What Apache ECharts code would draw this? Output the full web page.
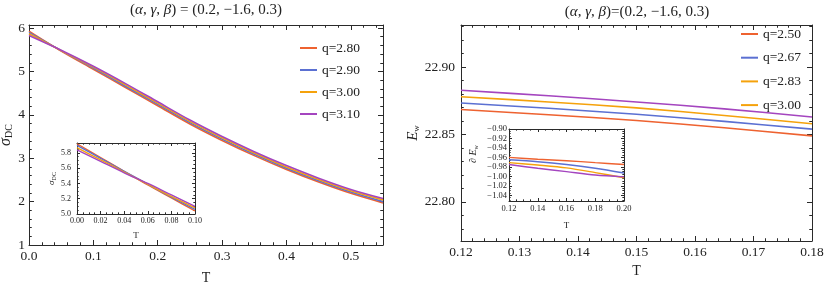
<!DOCTYPE html>
<html>
<head>
<meta charset="utf-8">
<script src="https://cdn.jsdelivr.net/npm/echarts@6/dist/echarts.min.js"></script>
<style>
html, body { margin: 0; padding: 0; background: #fff; }
#main { width: 830px; height: 285px; }
</style>
</head>
<body>
<div id="main"></div>
<script>
// 左图：sigma_DC 随 T
const tMain = [0, 0.05, 0.1, 0.15, 0.2, 0.25, 0.3, 0.35, 0.4, 0.45, 0.5, 0.55]
const sig280 = [5.93, 5.47, 5.05, 4.63, 4.21, 3.79, 3.41, 3.06, 2.74, 2.45, 2.19, 1.97]
const sig290 = [5.90, 5.48, 5.08, 4.66, 4.24, 3.82, 3.44, 3.09, 2.77, 2.48, 2.22, 2.00]
const sig300 = [5.87, 5.48, 5.10, 4.69, 4.27, 3.85, 3.47, 3.12, 2.80, 2.51, 2.25, 2.04]
const sig310 = [5.83, 5.49, 5.12, 4.72, 4.30, 3.88, 3.50, 3.15, 2.83, 2.54, 2.28, 2.07]

// 左图小窗
const tInset = [0, 0.02, 0.04, 0.06, 0.08, 0.1]
const sigIn280 = [5.92, 5.74, 5.56, 5.38, 5.21, 5.04]
const sigIn290 = [5.90, 5.73, 5.56, 5.39, 5.22, 5.06]
const sigIn300 = [5.87, 5.71, 5.55, 5.39, 5.23, 5.08]
const sigIn310 = [5.84, 5.69, 5.54, 5.40, 5.25, 5.10]

// 右图：E_w 随 T
const tRight = [0.12, 0.135, 0.15, 0.165, 0.18]
const ew250 = [22.8685, 22.8646, 22.8604, 22.855, 22.849]
const ew267 = [22.8734, 22.8694, 22.865, 22.8597, 22.854]
const ew283 = [22.878, 22.8741, 22.8697, 22.8641, 22.858]
const ew300 = [22.8828, 22.8787, 22.8741, 22.869, 22.863]

// 右图小窗：偏导
const tRightIn = [0.12, 0.14, 0.16, 0.18, 0.2]
const dEw250 = [-0.960, -0.964, -0.967, -0.971, -0.975]
const dEw267 = [-0.965, -0.969, -0.975, -0.983, -0.993]
const dEw283 = [-0.971, -0.976, -0.982, -0.992, -1.003]
const dEw300 = [-0.975, -0.983, -0.990, -0.997, -1.001]

const leftNames = ["q=2.80", "q=2.90", "q=3.00", "q=3.10"]
const rightNames = ["q=2.50", "q=2.67", "q=2.83", "q=3.00"]
const colors = ["#ee6230", "#5b70d2", "#f5a20c", "#a445bf"]

// 刻度标签
const xTicksMain = [0, 0.1, 0.2, 0.3, 0.4, 0.5]
const yTicksMain = [1, 2, 3, 4, 5, 6]
const xTicksInset = [0, 0.02, 0.04, 0.06, 0.08, 0.1]
const yTicksInset = [5.0, 5.2, 5.4, 5.6, 5.8]
const xTicksRight = [0.12, 0.13, 0.14, 0.15, 0.16, 0.17, 0.18]
const yTicksRight = [22.8, 22.85, 22.9]
const xTicksRightIn = [0.12, 0.14, 0.16, 0.18, 0.2]
const yTicksRightIn = [-1.04, -1.02, -1.0, -0.98, -0.96, -0.94, -0.92, -0.9]

const serif = "Liberation Serif"
const frameColor = "#2a2a2a"

const fmt = (v, d) => (v < -1e-9 ? "\u2212" : "") + Math.abs(v).toFixed(d)

// 副刻度
const minorOf = (min, max, step, major) => {
  const out = []
  for (let k = Math.ceil(min / step - 1e-6); k * step <= max + 1e-9; k++) {
    const v = +(k * step).toFixed(6)
    if (!major.some((m) => Math.abs(m - v) < step / 10)) out.push(v)
  }
  return out
}

const xAxes = []
const yAxes = []

// 四边框 + 主副刻度
function addFrame(list, gi, pos, opp, min, max, major, minorStep, digits, lab, name) {
  const idx = list.length
  const base = { type: "value", gridIndex: gi, min: min, max: max, splitLine: { show: false } }
  const line = { show: true, onZero: false, lineStyle: { color: frameColor, width: 1 } }
  list.push({
    ...base,
    position: pos,
    axisLine: line,
    axisTick: { show: true, inside: true, length: lab.tick, customValues: major, lineStyle: { color: frameColor } },
    axisLabel: {
      show: true, customValues: major, margin: lab.margin, fontSize: lab.size,
      fontFamily: serif, color: "#222", formatter: (v) => fmt(v, digits)
    },
    name: name ? name.text : "",
    nameLocation: "middle",
    nameGap: name ? name.gap : 0,
    nameTextStyle: name ? name.style : {}
  })
  list.push({
    ...base,
    position: opp,
    axisLine: line,
    axisTick: { show: true, inside: true, length: lab.tick, customValues: major, lineStyle: { color: frameColor } },
    axisLabel: { show: false }
  })
  const minor = minorOf(min, max, minorStep, major)
  ;[pos, opp].forEach((p) => {
    list.push({
      ...base,
      position: p,
      axisLine: { show: false, onZero: false },
      axisTick: { show: true, inside: true, length: lab.tick * 0.55, customValues: minor, lineStyle: { color: frameColor } },
      axisLabel: { show: false }
    })
  })
  return idx
}

const subName = (size, shiftUp) => ({
  fontFamily: serif,
  padding: [0, 0, 0, shiftUp || 0],
  rich: {
    m: { fontFamily: serif, fontStyle: "italic", fontSize: size, color: "#222" },
    s: { fontFamily: serif, fontSize: Math.round(size * 0.62), color: "#222", padding: [Math.round(size * 0.45), 0, 0, 0] }
  }
})

const grids = [
  { left: 29, top: 25, width: 354, height: 220 },
  { left: 77, top: 143, width: 118, height: 71, show: true, backgroundColor: "#fff", borderWidth: 0 },
  { left: 461, top: 25, width: 351, height: 216 },
  { left: 509, top: 129, width: 115, height: 72, show: true, backgroundColor: "#fff", borderWidth: 0 }
]

const mainLab = { tick: 5, margin: 4, size: 13.5 }
const insetLab = { tick: 3, margin: 3, size: 8.5 }

// 左主图
const x0 = addFrame(xAxes, 0, "bottom", "top", 0, 0.55, xTicksMain, 0.02, 1, mainLab,
  { text: "T", gap: 26, style: { fontFamily: serif, fontSize: 14, color: "#222" } })
const y0 = addFrame(yAxes, 0, "left", "right", 1, 6.07, yTicksMain, 0.2, 0, { tick: 5, margin: 4, size: 13.5 },
  { text: "{m|σ}{s|DC}", gap: 9, style: subName(16) })
// 左小窗
const x1 = addFrame(xAxes, 1, "bottom", "top", 0, 0.1, xTicksInset, 0.005, 2, { tick: 3, margin: 3, size: 8 },
  { text: "T", gap: 17, style: { fontFamily: serif, fontSize: 9, color: "#222" } })
const y1 = addFrame(yAxes, 1, "left", "right", 5.0, 5.93, yTicksInset, 0.05, 1, { tick: 3, margin: 6, size: 8 },
  { text: "{m|σ}{s|DC}", gap: 15, style: subName(9) })
// 右主图
const x2 = addFrame(xAxes, 2, "bottom", "top", 0.12, 0.18, xTicksRight, 0.002, 2, mainLab,
  { text: "T", gap: 20, style: { fontFamily: serif, fontSize: 14, color: "#222" } })
const y2 = addFrame(yAxes, 2, "left", "right", 22.771, 22.9312, yTicksRight, 0.01, 2, { tick: 5, margin: 6, size: 13.5 },
  { text: "{m|E}{s|w}", gap: 38, style: subName(15) })
// 右小窗
const x3 = addFrame(xAxes, 3, "bottom", "top", 0.12, 0.2, xTicksRightIn, 0.005, 2, insetLab,
  { text: "T", gap: 20, style: { fontFamily: serif, fontSize: 9, color: "#222" } })
const y3 = addFrame(yAxes, 3, "left", "right", -1.052, -0.9, yTicksRightIn, 0.005, 2, { tick: 3, margin: 2, size: 8.5 },
  { text: "{m|∂ E}{s|w}", gap: 30, style: subName(10, 22) })

const mk = (xs, ys) => xs.map((t, i) => [t, ys[i]])

const series = []
const addSet = (names, xs, sets, xi, yi, width) => {
  sets.forEach((ys, k) => {
    series.push({
      name: names[k], type: "line", xAxisIndex: xi, yAxisIndex: yi,
      data: mk(xs, ys), smooth: 0.3, showSymbol: false, symbol: "none",
      color: colors[k], lineStyle: { width: width, color: colors[k] }, animation: false
    })
  })
}
addSet(leftNames, tMain, [sig280, sig290, sig300, sig310], x0, y0, 1.6)
addSet(leftNames, tInset, [sigIn280, sigIn290, sigIn300, sigIn310], x1, y1, 1.4)
addSet(rightNames, tRight, [ew250, ew267, ew283, ew300], x2, y2, 1.6)
addSet(rightNames, tRightIn, [dEw250, dEw267, dEw283, dEw300], x3, y3, 1.4)

const titleStyle = {
  fontFamily: serif, fontSize: 15, fontWeight: "normal", color: "#222",
  rich: { i: { fontFamily: serif, fontStyle: "italic", fontSize: 15, color: "#222" } }
}

const legendBase = {
  orient: "vertical", icon: "rect", itemWidth: 17, itemHeight: 2, padding: 0,
  textStyle: { fontFamily: serif, fontSize: 13.5, color: "#222", lineHeight: 14 },
  selectedMode: false
}

const option = {
  backgroundColor: "#fff",
  animation: false,
  title: [
    { text: "({i|α}, {i|γ}, {i|β}) = (0.2, −1.6, 0.3)", left: 206, top: 3, padding: 0, textAlign: "center", textStyle: titleStyle },
    { text: "({i|α}, {i|γ}, {i|β})=(0.2, −1.6, 0.3)", left: 637, top: 5, padding: 0, textAlign: "center", textStyle: titleStyle }
  ],
  legend: [
    { ...legendBase, data: leftNames, left: 300, top: 41, itemGap: 8 },
    { ...legendBase, data: rightNames, left: 741, top: 27, itemGap: 9.7 }
  ],
  grid: grids.map((g) => ({ ...g, outerBoundsMode: "none" })),
  xAxis: xAxes,
  yAxis: yAxes,
  series: series
}

const myChart = echarts.init(document.getElementById("main"), null, { renderer: "canvas" })
myChart.setOption(option)
</script>
</body>
</html>
